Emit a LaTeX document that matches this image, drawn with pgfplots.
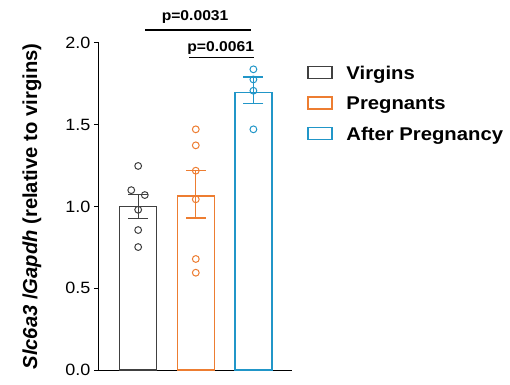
\documentclass[border=0pt]{standalone}
\usepackage{pgfplots}
\pgfplotsset{compat=1.18}
\usepackage{fontspec}
\setmainfont{Liberation Sans}
\newfontfamily\wide{Liberation Sans}[FakeStretch=1.1]
\definecolor{cgray}{HTML}{404040}
\definecolor{corange}{HTML}{ED7D31}
\definecolor{cblue}{HTML}{2196C8}
\begin{document}
\begin{tikzpicture}
\begin{axis}[
  at={(0,0)}, anchor=south west,
  scale only axis, width=193bp, height=327bp,
  xmin=-0.68, xmax=2.67, ymin=0, ymax=2,
  axis x line*=bottom, axis y line*=left,
  xtick=\empty, ytick={0,0.5,1,1.5,2},
  /pgf/number format/assume math mode=true,
  yticklabel style={/pgf/number format/fixed, /pgf/number format/fixed zerofill,
    /pgf/number format/precision=1, font=\wide\fontsize{16.4}{18}\selectfont},
  tick align=outside, major tick length=5bp,
  tick style={line width=1bp, black},
  axis line style={line width=1bp, black},
  clip=false,
  every axis y label/.style={at={([xshift=-67bp]axis description cs:0,0.5)}, rotate=90, anchor=center},
  ylabel={\bfseries\fontsize{20.3}{22}\selectfont\textit{Slc6a3} /\textit{Gapdh} (relative to virgins)},
  legend style={at={(axis description cs:1,1)}, anchor=north west, xshift=15bp, yshift=-22.2bp,
    draw=none, fill=none, inner sep=0pt, row sep=12.5bp, column sep=14bp,
    font=\wide\bfseries\fontsize{18.5}{20}\selectfont,
    nodes={inner sep=0pt, text height=14bp, text depth=4bp}},
  legend cell align=left,
  legend image code/.code={\draw[#1, fill=white] (0bp,-4.2bp) rectangle (24bp,7.8bp);},
]
% bars
\addplot[ybar, bar shift=0pt, bar width=37bp, draw=cgray, fill=white, line width=1.3bp] coordinates {(0,1.0)};
\addlegendentry{Virgins}
\addplot[ybar, bar shift=0pt, bar width=37bp, draw=corange, fill=white, line width=1.3bp] coordinates {(1,1.065)};
\addlegendentry{Pregnants}
\addplot[ybar, bar shift=0pt, bar width=37bp, draw=cblue, fill=white, line width=1.3bp] coordinates {(2,1.698)};
\addlegendentry{After Pregnancy}
% error bars
\addplot[draw=none, mark=none, forget plot, error bars/.cd, y dir=both, y explicit,
  error bar style={cgray, line width=1.3bp}, error mark options={rotate=90, mark size=10bp, cgray, line width=1.3bp}]
  coordinates {(0,1.0) +- (0,0.073)};
\addplot[draw=none, mark=none, forget plot, error bars/.cd, y dir=both, y explicit,
  error bar style={corange, line width=1.3bp}, error mark options={rotate=90, mark size=10bp, corange, line width=1.3bp}]
  coordinates {(1,1.075) +- (0,0.146)};
\addplot[draw=none, mark=none, forget plot, error bars/.cd, y dir=both, y explicit,
  error bar style={cblue, line width=1.3bp}, error mark options={rotate=90, mark size=10bp, cblue, line width=1.3bp}]
  coordinates {(2,1.710) +- (0,0.082)};
% points
\addplot[only marks, mark=o, mark size=3.4bp, draw=cgray, line width=1bp, forget plot] coordinates {
  (0,1.248) (-0.12,1.100) (0.115,1.070) (0,0.980) (0,0.856) (0,0.752)};
\addplot[only marks, mark=o, mark size=3.4bp, draw=corange, line width=1bp, forget plot] coordinates {
  (1,1.472) (1,1.374) (1,1.219) (1,1.044) (1,0.679) (1,0.595)};
\addplot[only marks, mark=o, mark size=3.4bp, draw=cblue, line width=1bp, forget plot] coordinates {
  (2,1.839) (2,1.777) (2,1.708) (2,1.472)};
% significance
\draw[line width=1.3bp, black] (axis cs:0.121,2.080) -- (axis cs:1.953,2.080);
\node[anchor=base, inner sep=0pt, font=\wide\bfseries\fontsize{14.3}{16}\selectfont] at (axis cs:0.988,2.136) {p=0.0031};
\draw[line width=1.3bp, black] (axis cs:0.884,1.913) -- (axis cs:2.01,1.913);
\node[anchor=base, inner sep=0pt, font=\wide\bfseries\fontsize{14.3}{16}\selectfont] at (axis cs:1.433,1.947) {p=0.0061};
\end{axis}
\pgfresetboundingbox
\path (-99bp,-15bp) rectangle (411bp,370bp);
\end{tikzpicture}
\end{document}
